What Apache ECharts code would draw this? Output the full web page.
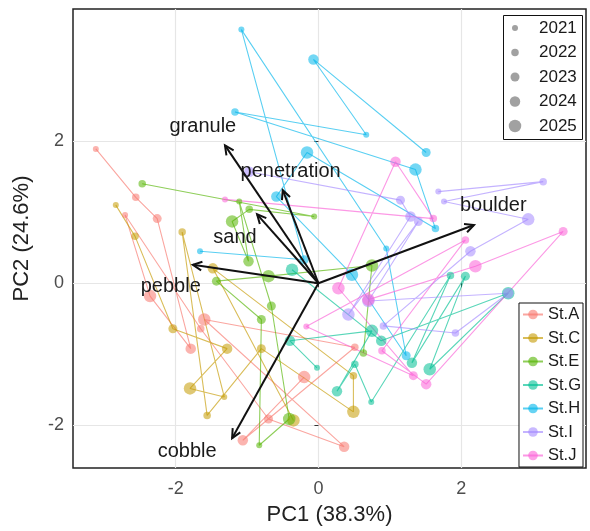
<!DOCTYPE html>
<html><head><meta charset="utf-8">
<script src="https://cdn.jsdelivr.net/npm/echarts@6/dist/echarts.min.js"></script>
<style>html,body{margin:0;padding:0;background:#fff}#c{width:590px;height:531px}</style>
</head><body><div id="c"></div>
<script>
// ---- data ----
const stations = ['St.A','St.C','St.E','St.G','St.H','St.I','St.J'];
const colors = ['#F8766D','#C49A00','#53B400','#00C094','#00B6EB','#A58AFF','#FB61D7'];
const years = [2021,2022,2023,2024,2025];
const yearSizes = [6,7.5,9,10.5,12.5];
// [PC1, PC2, year]
const stA = [[-3.12,1.89,2021],[-2.56,1.21,2022],[-2.26,0.91,2023],[-1.79,-0.92,2024],[-2.36,-0.18,2025],
  [-2.71,0.96,2021],[-1.65,-0.64,2022],[-0.70,-1.91,2023],[0.36,-2.30,2024],[-1.60,-0.51,2025],
  [0.51,-0.90,2022],[-1.06,-2.21,2024],[-0.20,-1.32,2025]];
const stC = [[-2.84,1.10,2021],[-2.57,0.66,2022],[-2.04,-0.64,2023],[-1.28,-0.92,2024],[-1.80,-1.48,2025],
  [-1.32,-1.60,2021],[-1.91,0.72,2022],[-1.56,-1.86,2022],[-0.80,-0.92,2023],[0.49,-1.81,2025],
  [0.49,-1.30,2022],[-1.48,0.21,2024],[-0.35,-1.93,2025]];
const stE = [[-2.47,1.40,2022],[-0.06,0.94,2021],[-0.97,1.04,2022],[-1.21,0.87,2025],[-0.98,0.31,2024],
  [-1.11,1.15,2021],[-0.66,-0.32,2023],[-0.41,-1.91,2025],[-0.83,-2.28,2021],[-0.80,-0.51,2023],
  [-1.43,0.03,2023],[-0.70,0.10,2025],[0.75,0.25,2025],[0.63,-0.98,2022]];
const stG = [[-0.02,-1.19,2021],[-0.40,-0.81,2024],[0.75,-0.67,2025],[0.26,-1.52,2024],[0.51,-1.14,2022],
  [0.74,-1.67,2021],[1.85,0.11,2022],[1.31,-1.12,2024],[2.06,0.10,2023],[1.56,-1.21,2025],
  [2.66,-0.14,2025],[0.88,-0.81,2024],[-0.37,0.19,2025]];
const stH = [[-1.66,0.45,2021],[-0.20,0.33,2023],[-1.08,3.57,2021],[0.95,0.49,2021],[1.23,-1.02,2023],
  [0.47,0.12,2025],[-0.59,1.22,2024],[-0.16,1.84,2025],[1.64,0.77,2022],[1.36,1.60,2025],
  [-1.17,2.41,2022],[0.67,2.09,2021],[-0.07,3.15,2024],[1.51,1.84,2023]];
const stI = [[1.68,1.29,2021],[3.15,1.43,2022],[1.76,1.15,2021],[2.94,0.90,2025],[2.13,0.45,2024],
  [0.91,-0.60,2022],[1.92,-0.70,2022],[2.66,-0.14,2024],[0.70,-0.25,2025],[1.40,0.87,2023],
  [0.42,-0.44,2025],[1.29,0.94,2024],[1.15,1.17,2023],[-0.97,1.57,2024]];
const stJ = [[-1.31,1.18,2021],[1.61,0.91,2022],[1.08,1.71,2024],[0.28,-0.07,2025],[1.33,-1.30,2023],
  [-0.17,-0.61,2021],[2.06,0.61,2022],[0.89,-0.95,2022],[1.51,-1.42,2024],[3.43,0.73,2023],
  [2.20,0.24,2025],[0.70,-0.23,2025]];
const stationData = [stA,stC,stE,stG,stH,stI,stJ];

const loadNames = ['granule','penetration','sand','pebble','cobble','boulder'];
const loadX = [-1.31,-0.50,-0.86,-1.76,-1.21,2.18];
const loadY = [1.94,1.31,0.97,0.26,-2.18,0.82];
const labelX = [-1.62,-0.39,-1.17,-2.07,-1.84,2.45];
const labelY = [2.20,1.58,0.65,-0.05,-2.37,1.10];

const xTicks = [-2,0,2];
const yTicks = [-2,0,2];

// ---- chart ----
const chart = echarts.init(document.getElementById('c'), null, {renderer:'canvas'});
const FONT = 'Liberation Sans, Arial, sans-serif';
const series = stations.map((name,i)=>({
  name, type:'line', data: stationData[i], z: 2,
  symbol:'circle',
  symbolSize: v => yearSizes[years.indexOf(v[2])],
  showSymbol:true, animation:false,
  lineStyle:{color:colors[i], width:1.1, opacity:0.65},
  itemStyle:{color:colors[i], opacity:0.55},
  emphasis:{disabled:true}
}));
series.push({
  type:'custom', name:'loadings', z:10, animation:false, silent:true,
  data: loadNames.map((n,i)=>[loadX[i],loadY[i],labelX[i],labelY[i],i]),
  renderItem:(params, api)=>{
    const o = api.coord([0,0]);
    const t = api.coord([api.value(0), api.value(1)]);
    const l = api.coord([api.value(2), api.value(3)]);
    const ang = Math.atan2(t[1]-o[1], t[0]-o[0]);
    const hl = 10, ha = Math.PI/7;
    const h1 = [t[0]-hl*Math.cos(ang-ha), t[1]-hl*Math.sin(ang-ha)];
    const h2 = [t[0]-hl*Math.cos(ang+ha), t[1]-hl*Math.sin(ang+ha)];
    return {type:'group', children:[
      {type:'line', shape:{x1:o[0],y1:o[1],x2:t[0],y2:t[1]}, style:{stroke:'#111',lineWidth:2}},
      {type:'polyline', shape:{points:[h1,t,h2]}, style:{stroke:'#111',lineWidth:2,fill:null}},
      {type:'text', x:l[0], y:l[1], style:{text:loadNames[api.value(4)], fill:'#1a1a1a',
        font:'20px '+FONT, align:'center', verticalAlign:'middle'}}
    ]};
  }
});

const yearLegend = [];
const lgX = 503, lgY = 15;
yearLegend.push({type:'rect', shape:{x:lgX+0.5,y:lgY+0.5,width:79,height:124},
  style:{fill:'#fff',stroke:'#111',lineWidth:1}, z:20});
years.forEach((yr,k)=>{
  const cy = lgY + 13 + k*24.5;
  yearLegend.push({type:'circle', shape:{cx:lgX+12, cy, r:yearSizes[k]/2},
    style:{fill:'rgba(110,110,110,0.65)'}, z:21});
  yearLegend.push({type:'text', x:lgX+36, y:cy, style:{text:String(yr), font:'17px '+FONT,
    fill:'#1a1a1a', verticalAlign:'middle'}, z:21});
});

chart.setOption({
  backgroundColor:'#fff',
  animation:false,
  grid:{left:73, right:4, top:9, bottom:60, show:true, borderColor:'#222', borderWidth:1.5, backgroundColor:'#fff'},
  xAxis:{type:'value', min:-3.44, max:3.75,
    name:'PC1 (38.3%)', nameLocation:'middle', nameGap:36,
    nameTextStyle:{fontSize:22, color:'#222', fontFamily:FONT},
    axisLine:{show:false},
    axisTick:{show:true, length:4, customValues:xTicks, lineStyle:{color:'#333'}},
    axisLabel:{customValues:xTicks, fontSize:18, color:'#4d4d4d', fontFamily:FONT, margin:12},
    splitLine:{show:true, lineStyle:{color:'#e6e6e6', width:1.2}}
  },
  yAxis:{type:'value', min:-2.60, max:3.86,
    name:'PC2 (24.6%)', nameLocation:'middle', nameGap:40, nameRotate:90,
    nameTextStyle:{fontSize:22, color:'#222', fontFamily:FONT},
    axisLine:{show:false},
    axisTick:{show:true, length:4, customValues:yTicks, lineStyle:{color:'#333'}},
    axisLabel:{customValues:yTicks, fontSize:18, color:'#4d4d4d', fontFamily:FONT, margin:9},
    splitLine:{show:true, lineStyle:{color:'#e6e6e6', width:1.2}}
  },
  legend:{
    data: stations.map((s,i)=>({name:s, itemStyle:{opacity:0.6}})),
    orient:'vertical', right:7, bottom:64, padding:[3,2,3,3],
    itemWidth:20, itemHeight:12, itemGap:6.5,
    borderColor:'#111', borderWidth:1, backgroundColor:'#fff',
    textStyle:{fontSize:16.5, color:'#1a1a1a', fontFamily:FONT, padding:[0,0,0,0]},
    selectedMode:false, z:20
  },
  graphic: yearLegend,
  series
});
</script></body></html>
